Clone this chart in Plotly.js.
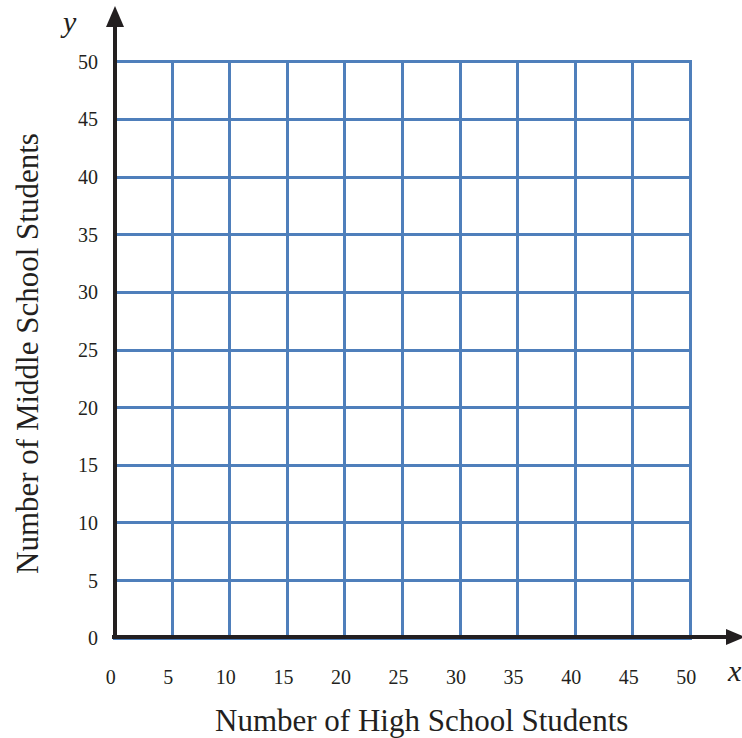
<!DOCTYPE html>
<html>
<head>
<meta charset="utf-8">
<script src="https://cdn.plot.ly/plotly-3.0.1.min.js"></script>
<style>html,body{margin:0;padding:0;background:#fff;}#chart{width:742px;height:738px;}</style>
</head>
<body>
<div id="chart"></div>
<script>
const xTickValues = [0, 5, 10, 15, 20, 25, 30, 35, 40, 45, 50];
const yTickValues = [0, 5, 10, 15, 20, 25, 30, 35, 40, 45, 50];
const xTickLabels = ["0", "5", "10", "15", "20", "25", "30", "35", "40", "45", "50"];
const yTickLabels = ["0", "5", "10", "15", "20", "25", "30", "35", "40", "45", "50"];
const xRange = [-0.15, 50.15];
const yRange = [-0.15, 50.15];
const xTitle = "Number of High School Students";
const yTitle = "Number of Middle School Students";

const W = 742, H = 738;
const M = {l: 113, r: 50, t: 60, b: 98};
const pw = W - M.l - M.r, ph = H - M.t - M.b;
const px = v => (v - M.l) / pw;          // pixel x -> paper x
const py = v => (H - M.b - v) / ph;      // pixel y -> paper y

const serif = "'Liberation Serif', 'Times New Roman', serif";
const ink = "#231f20";
const grid = "#4f7fbb";

const layout = {
  width: W, height: H,
  margin: M,
  paper_bgcolor: "#fff", plot_bgcolor: "#fff",
  showlegend: false,
  xaxis: {
    range: xRange, tickmode: "array", tickvals: xTickValues, ticktext: xTickLabels,
    showgrid: true, gridcolor: grid, gridwidth: 3, zeroline: false, showline: false,
    ticks: "", ticklabelstandoff: 23, ticklabelshift: -4,
    tickfont: {family: serif, size: 20, color: ink}, fixedrange: true
  },
  yaxis: {
    range: yRange, tickmode: "array", tickvals: yTickValues, ticktext: yTickLabels,
    showgrid: true, gridcolor: grid, gridwidth: 3, zeroline: false, showline: false,
    ticks: "", ticklabelstandoff: 14,
    tickfont: {family: serif, size: 20, color: ink}, fixedrange: true
  },
  shapes: [
    {type: "line", xref: "paper", yref: "paper", x0: px(112), x1: px(730), y0: py(637), y1: py(637),
     line: {color: ink, width: 4}},
    {type: "line", xref: "paper", yref: "paper", x0: px(115), x1: px(115), y0: py(639), y1: py(22),
     line: {color: ink, width: 4}},
    {type: "path", xref: "paper", yref: "paper",
     path: `M ${px(726)} ${py(629)} L ${px(745)} ${py(637)} L ${px(726)} ${py(645)} Z`,
     fillcolor: ink, line: {width: 0}},
    {type: "path", xref: "paper", yref: "paper",
     path: `M ${px(106)} ${py(27)} L ${px(115)} ${py(6)} L ${px(124)} ${py(27)} Z`,
     fillcolor: ink, line: {width: 0}}
  ],
  annotations: [
    {text: xTitle, xref: "paper", yref: "paper", x: px(421), y: py(720), showarrow: false,
     font: {family: serif, size: 31, color: ink}, xanchor: "center", yanchor: "middle"},
    {text: yTitle, xref: "paper", yref: "paper", x: px(27), y: py(354), showarrow: false, textangle: -90,
     font: {family: serif, size: 31, color: ink}, xanchor: "center", yanchor: "middle"},
    {text: "<i>y</i>", xref: "paper", yref: "paper", x: px(68), y: py(22), showarrow: false,
     font: {family: serif, size: 30, color: ink}, xanchor: "center", yanchor: "middle"},
    {text: "<i>x</i>", xref: "paper", yref: "paper", x: px(735), y: py(670), showarrow: false,
     font: {family: serif, size: 30, color: ink}, xanchor: "center", yanchor: "middle"}
  ]
};

const data = [{type: "scatter", x: [], y: [], mode: "markers", hoverinfo: "skip"}];
Plotly.newPlot("chart", data, layout, {displayModeBar: false, staticPlot: true});
</script>
</body>
</html>
